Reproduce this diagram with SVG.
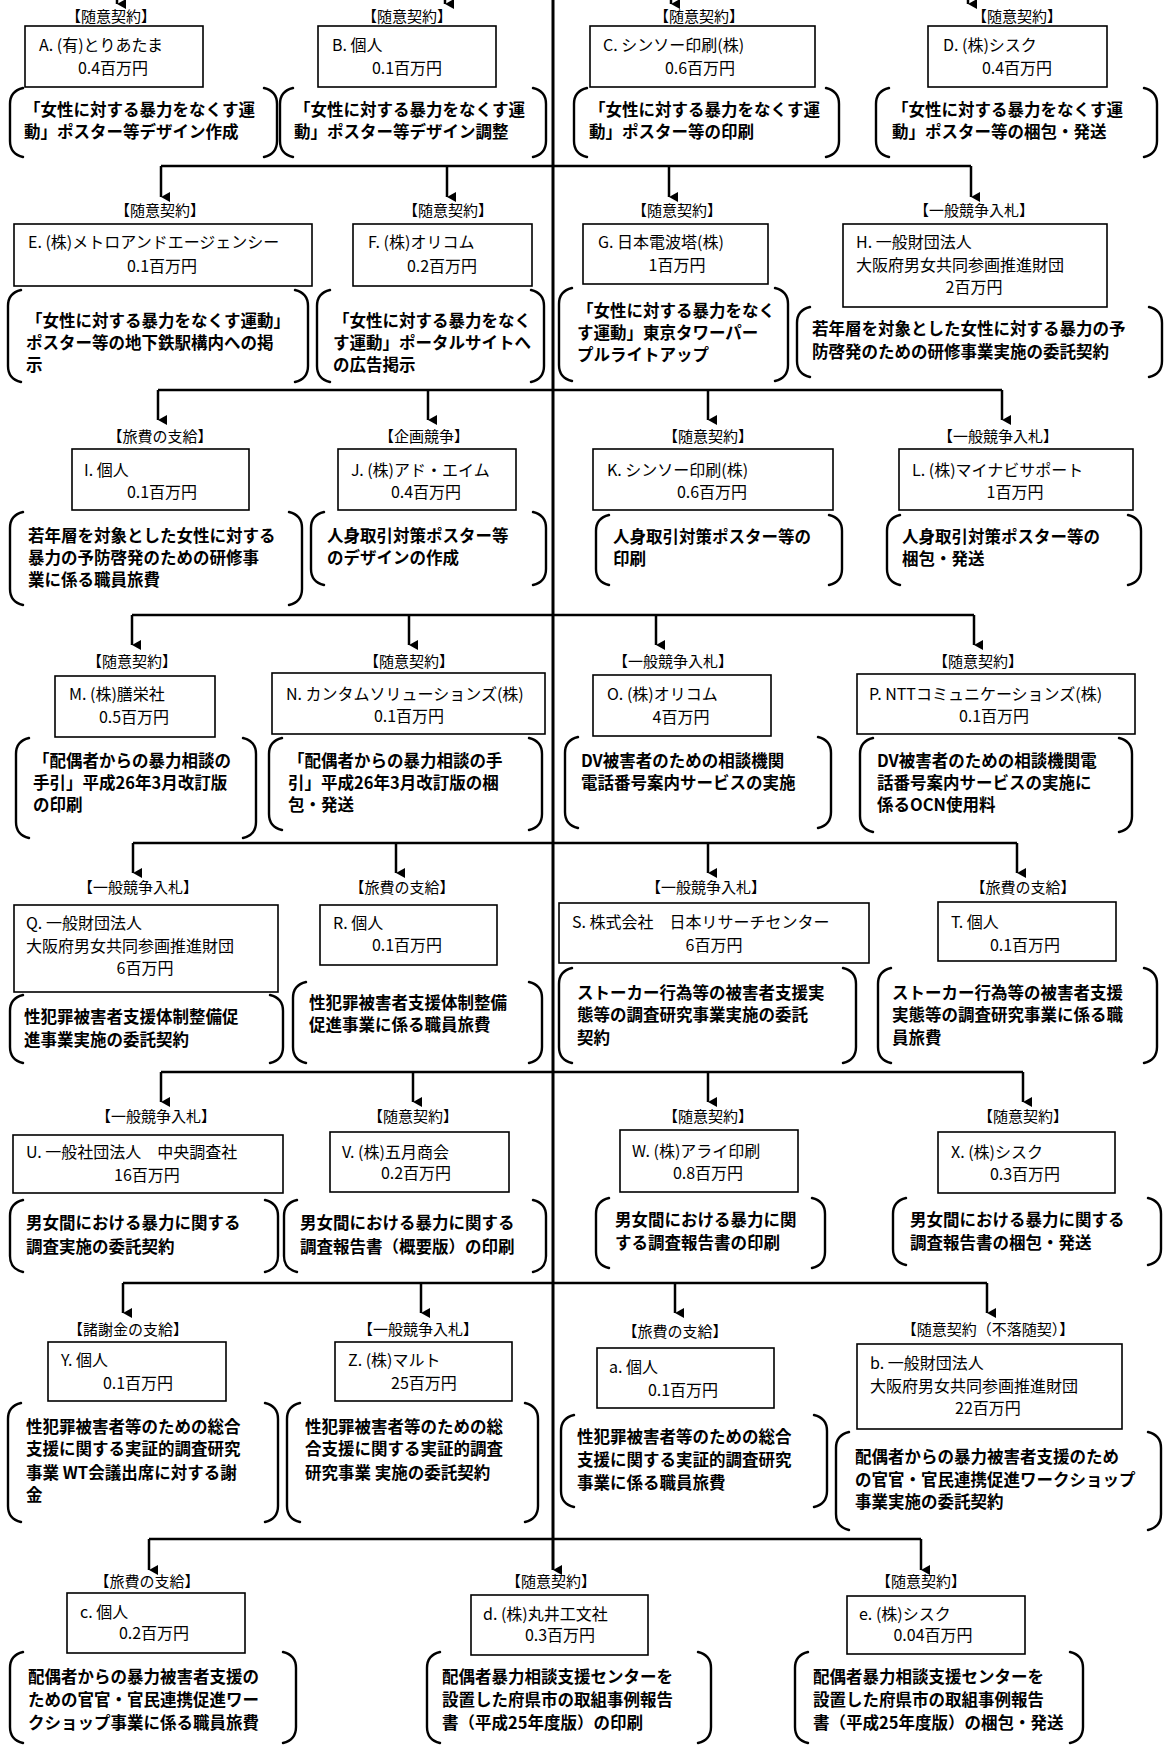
<svg xmlns="http://www.w3.org/2000/svg" width="1165" height="1753" viewBox="0 0 1165 1753">
<style>
text{font-family:"Noto Sans CJK JP","Noto Sans CJK SC",sans-serif;fill:#000}
.lb{font-size:15px;text-anchor:middle}
.bt{font-size:16px}
.bm{font-size:16px;text-anchor:middle}
.dt{font-size:16.5px;font-weight:700}
.box{fill:#fff;stroke:#000;stroke-width:1.6}
.br{fill:none;stroke:#000;stroke-width:2.4;stroke-linecap:round}
.ln{fill:none;stroke:#000;stroke-width:2.5}
.cl{fill:none;stroke:#000;stroke-width:3}
</style>
<defs>
<marker id="ah" markerUnits="userSpaceOnUse" markerWidth="12" markerHeight="12" viewBox="0 0 12 12" refX="6" refY="11" orient="auto-start-reverse">
<path d="M1,2 L11,2 L6,11 Z" fill="#000"/>
</marker>
</defs>
<rect x="0" y="0" width="1165" height="1753" fill="#fff"/>

<g id="connectors">
<line class="cl" x1="553" y1="0" x2="553" y2="1570" marker-end="url(#ah)"/>
<line class="ln" x1="117" y1="-12" x2="117" y2="4" marker-end="url(#ah)"/>
<line class="ln" x1="445" y1="-12" x2="445" y2="4" marker-end="url(#ah)"/>
<line class="ln" x1="671" y1="-12" x2="671" y2="4" marker-end="url(#ah)"/>
<line class="ln" x1="968" y1="-12" x2="968" y2="4" marker-end="url(#ah)"/>

<path class="ln" d="M161,166 H971"/>
<line class="ln" x1="161" y1="166" x2="161" y2="197" marker-end="url(#ah)"/>
<line class="ln" x1="447" y1="166" x2="447" y2="197" marker-end="url(#ah)"/>
<line class="ln" x1="669" y1="166" x2="669" y2="197" marker-end="url(#ah)"/>
<line class="ln" x1="971" y1="166" x2="971" y2="197" marker-end="url(#ah)"/>

<path class="ln" d="M158,390 H1002"/>
<line class="ln" x1="158" y1="390" x2="158" y2="420" marker-end="url(#ah)"/>
<line class="ln" x1="428" y1="390" x2="428" y2="420" marker-end="url(#ah)"/>
<line class="ln" x1="708" y1="390" x2="708" y2="420" marker-end="url(#ah)"/>
<line class="ln" x1="1002" y1="390" x2="1002" y2="420" marker-end="url(#ah)"/>

<path class="ln" d="M132,615 H974"/>
<line class="ln" x1="132" y1="615" x2="132" y2="645" marker-end="url(#ah)"/>
<line class="ln" x1="409" y1="615" x2="409" y2="645" marker-end="url(#ah)"/>
<line class="ln" x1="656" y1="615" x2="656" y2="645" marker-end="url(#ah)"/>
<line class="ln" x1="974" y1="615" x2="974" y2="645" marker-end="url(#ah)"/>

<path class="ln" d="M133,843 H1017"/>
<line class="ln" x1="133" y1="843" x2="133" y2="873" marker-end="url(#ah)"/>
<line class="ln" x1="396" y1="843" x2="396" y2="873" marker-end="url(#ah)"/>
<line class="ln" x1="708" y1="843" x2="708" y2="873" marker-end="url(#ah)"/>
<line class="ln" x1="1017" y1="843" x2="1017" y2="873" marker-end="url(#ah)"/>

<path class="ln" d="M161,1072 H1023"/>
<line class="ln" x1="161" y1="1072" x2="161" y2="1102" marker-end="url(#ah)"/>
<line class="ln" x1="413" y1="1072" x2="413" y2="1102" marker-end="url(#ah)"/>
<line class="ln" x1="708" y1="1072" x2="708" y2="1102" marker-end="url(#ah)"/>
<line class="ln" x1="1023" y1="1072" x2="1023" y2="1102" marker-end="url(#ah)"/>

<path class="ln" d="M123,1283 H987"/>
<line class="ln" x1="123" y1="1283" x2="123" y2="1313" marker-end="url(#ah)"/>
<line class="ln" x1="421" y1="1283" x2="421" y2="1313" marker-end="url(#ah)"/>
<line class="ln" x1="675" y1="1283" x2="675" y2="1313" marker-end="url(#ah)"/>
<line class="ln" x1="987" y1="1283" x2="987" y2="1313" marker-end="url(#ah)"/>

<path class="ln" d="M149,1539 H921"/>
<line class="ln" x1="149" y1="1539" x2="149" y2="1570" marker-end="url(#ah)"/>
<line class="ln" x1="921" y1="1539" x2="921" y2="1570" marker-end="url(#ah)"/>
</g>

<!-- Row 1 -->
<g id="node-A">
<text class="lb" x="111" y="22">【随意契約】</text>
<rect class="box" x="25" y="26" width="178" height="61"/>
<text class="bt" x="39" y="51">A. (有)とりあたま</text>
<text class="bm" x="113" y="74">0.4百万円</text>
<path class="br" d="M23,88 Q10,91 10,104 V141 Q10,154 23,157 M264,88 Q277,91 277,104 V141 Q277,154 264,157"/>
<text class="dt" x="24" y="116">「女性に対する暴力をなくす運</text>
<text class="dt" x="24" y="138">動」ポスター等デザイン作成</text>
</g>
<g id="node-B">
<text class="lb" x="407" y="22">【随意契約】</text>
<rect class="box" x="318" y="26" width="178" height="61"/>
<text class="bt" x="332" y="51">B. 個人</text>
<text class="bm" x="407" y="74">0.1百万円</text>
<path class="br" d="M293,88 Q280,91 280,104 V141 Q280,154 293,157 M533,88 Q546,91 546,104 V141 Q546,154 533,157"/>
<text class="dt" x="294" y="116">「女性に対する暴力をなくす運</text>
<text class="dt" x="294" y="138">動」ポスター等デザイン調整</text>
</g>
<g id="node-C">
<text class="lb" x="699" y="22">【随意契約】</text>
<rect class="box" x="590" y="26" width="225" height="61"/>
<text class="bt" x="603" y="51">C. シンソー印刷(株)</text>
<text class="bm" x="700" y="74">0.6百万円</text>
<path class="br" d="M587,88 Q574,91 574,104 V141 Q574,154 587,157 M826,88 Q839,91 839,104 V141 Q839,154 826,157"/>
<text class="dt" x="589" y="116">「女性に対する暴力をなくす運</text>
<text class="dt" x="589" y="138">動」ポスター等の印刷</text>
</g>
<g id="node-D">
<text class="lb" x="1017" y="22">【随意契約】</text>
<rect class="box" x="928" y="26" width="179" height="61"/>
<text class="bt" x="943" y="51">D. (株)シスク</text>
<text class="bm" x="1017" y="74">0.4百万円</text>
<path class="br" d="M889,88 Q876,91 876,104 V141 Q876,154 889,157 M1144,88 Q1157,91 1157,104 V141 Q1157,154 1144,157"/>
<text class="dt" x="892" y="116">「女性に対する暴力をなくす運</text>
<text class="dt" x="892" y="138">動」ポスター等の梱包・発送</text>
</g>

<!-- Row 2 -->
<g id="node-E">
<text class="lb" x="160" y="216">【随意契約】</text>
<rect class="box" x="14" y="224" width="298" height="62"/>
<text class="bt" x="28" y="248">E. (株)メトロアンドエージェンシー</text>
<text class="bm" x="162" y="272">0.1百万円</text>
<path class="br" d="M21,290 Q8,293 8,306 V366 Q8,379 21,382 M295,290 Q308,293 308,306 V366 Q308,379 295,382"/>
<text class="dt" x="26" y="327">「女性に対する暴力をなくす運動」</text>
<text class="dt" x="26" y="349">ポスター等の地下鉄駅構内への掲</text>
<text class="dt" x="26" y="371">示</text>
</g>
<g id="node-F">
<text class="lb" x="448" y="216">【随意契約】</text>
<rect class="box" x="353" y="224" width="179" height="62"/>
<text class="bt" x="368" y="248">F. (株)オリコム</text>
<text class="bm" x="442" y="272">0.2百万円</text>
<path class="br" d="M330,290 Q317,293 317,306 V366 Q317,379 330,382 M531,290 Q544,293 544,306 V366 Q544,379 531,382"/>
<text class="dt" x="333" y="327">「女性に対する暴力をなく</text>
<text class="dt" x="333" y="349">す運動」ポータルサイトへ</text>
<text class="dt" x="333" y="371">の広告掲示</text>
</g>
<g id="node-G">
<text class="lb" x="677" y="216">【随意契約】</text>
<rect class="box" x="583" y="224" width="185" height="60"/>
<text class="bt" x="598" y="248">G. 日本電波塔(株)</text>
<text class="bm" x="677" y="271">1百万円</text>
<path class="br" d="M572,288 Q559,291 559,304 V365 Q559,378 572,381 M775,288 Q788,291 788,304 V365 Q788,378 775,381"/>
<text class="dt" x="577" y="317">「女性に対する暴力をなく</text>
<text class="dt" x="577" y="339">す運動」東京タワーパー</text>
<text class="dt" x="577" y="361">プルライトアップ</text>
</g>
<g id="node-H">
<text class="lb" x="974" y="216">【一般競争入札】</text>
<rect class="box" x="843" y="224" width="264" height="83"/>
<text class="bt" x="856" y="248">H. 一般財団法人</text>
<text class="bt" x="856" y="271">大阪府男女共同参画推進財団</text>
<text class="bm" x="974" y="293">2百万円</text>
<path class="br" d="M810,307 Q797,310 797,323 V361 Q797,374 810,377 M1149,307 Q1162,310 1162,323 V361 Q1162,374 1149,377"/>
<text class="dt" x="812" y="335">若年層を対象とした女性に対する暴力の予</text>
<text class="dt" x="812" y="358">防啓発のための研修事業実施の委託契約</text>
</g>

<!-- Row 3 -->
<g id="node-I">
<text class="lb" x="160" y="442">【旅費の支給】</text>
<rect class="box" x="72" y="449" width="177" height="61"/>
<text class="bt" x="84" y="476">I. 個人</text>
<text class="bm" x="162" y="498">0.1百万円</text>
<path class="br" d="M23,512 Q10,515 10,528 V589 Q10,602 23,605 M289,512 Q302,515 302,528 V589 Q302,602 289,605"/>
<text class="dt" x="28" y="542">若年層を対象とした女性に対する</text>
<text class="dt" x="28" y="564">暴力の予防啓発のための研修事</text>
<text class="dt" x="28" y="586">業に係る職員旅費</text>
</g>
<g id="node-J">
<text class="lb" x="424" y="442">【企画競争】</text>
<rect class="box" x="338" y="449" width="178" height="61"/>
<text class="bt" x="351" y="476">J. (株)アド・エイム</text>
<text class="bm" x="426" y="498">0.4百万円</text>
<path class="br" d="M324,512 Q311,515 311,528 V569 Q311,582 324,585 M533,512 Q546,515 546,528 V569 Q546,582 533,585"/>
<text class="dt" x="327" y="542">人身取引対策ポスター等</text>
<text class="dt" x="327" y="564">のデザインの作成</text>
</g>
<g id="node-K">
<text class="lb" x="708" y="442">【随意契約】</text>
<rect class="box" x="593" y="449" width="240" height="61"/>
<text class="bt" x="607" y="476">K. シンソー印刷(株)</text>
<text class="bm" x="712" y="498">0.6百万円</text>
<path class="br" d="M609,515 Q596,518 596,531 V569 Q596,582 609,585 M829,515 Q842,518 842,531 V569 Q842,582 829,585"/>
<text class="dt" x="613" y="543">人身取引対策ポスター等の</text>
<text class="dt" x="613" y="565">印刷</text>
</g>
<g id="node-L">
<text class="lb" x="998" y="442">【一般競争入札】</text>
<rect class="box" x="899" y="449" width="234" height="61"/>
<text class="bt" x="912" y="476">L. (株)マイナビサポート</text>
<text class="bm" x="1015" y="498">1百万円</text>
<path class="br" d="M900,515 Q887,518 887,531 V569 Q887,582 900,585 M1128,515 Q1141,518 1141,531 V569 Q1141,582 1128,585"/>
<text class="dt" x="902" y="543">人身取引対策ポスター等の</text>
<text class="dt" x="902" y="565">梱包・発送</text>
</g>

<!-- Row 4 -->
<g id="node-M">
<text class="lb" x="132" y="667">【随意契約】</text>
<rect class="box" x="55" y="676" width="160" height="61"/>
<text class="bt" x="69" y="700">M. (株)膳栄社</text>
<text class="bm" x="134" y="723">0.5百万円</text>
<path class="br" d="M29,738 Q16,741 16,754 V822 Q16,835 29,838 M243,738 Q256,741 256,754 V822 Q256,835 243,838"/>
<text class="dt" x="33" y="767">「配偶者からの暴力相談の</text>
<text class="dt" x="33" y="789">手引」平成26年3月改訂版</text>
<text class="dt" x="33" y="811">の印刷</text>
</g>
<g id="node-N">
<text class="lb" x="409" y="667">【随意契約】</text>
<rect class="box" x="272" y="673" width="273" height="61"/>
<text class="bt" x="286" y="700">N. カンタムソリューションズ(株)</text>
<text class="bm" x="409" y="722">0.1百万円</text>
<path class="br" d="M282,738 Q269,741 269,754 V814 Q269,827 282,830 M529,738 Q542,741 542,754 V814 Q542,827 529,830"/>
<text class="dt" x="288" y="767">「配偶者からの暴力相談の手</text>
<text class="dt" x="288" y="789">引」平成26年3月改訂版の梱</text>
<text class="dt" x="288" y="811">包・発送</text>
</g>
<g id="node-O">
<text class="lb" x="673" y="667">【一般競争入札】</text>
<rect class="box" x="593" y="675" width="178" height="61"/>
<text class="bt" x="607" y="700">O. (株)オリコム</text>
<text class="bm" x="681" y="723">4百万円</text>
<path class="br" d="M578,737 Q565,740 565,753 V812 Q565,825 578,828 M818,737 Q831,740 831,753 V812 Q831,825 818,828"/>
<text class="dt" x="581" y="767">DV被害者のための相談機関</text>
<text class="dt" x="581" y="789">電話番号案内サービスの実施</text>
</g>
<g id="node-P">
<text class="lb" x="978" y="667">【随意契約】</text>
<rect class="box" x="857" y="674" width="278" height="60"/>
<text class="bt" x="869" y="700">P. NTTコミュニケーションズ(株)</text>
<text class="bm" x="994" y="722">0.1百万円</text>
<path class="br" d="M873,738 Q860,741 860,754 V816 Q860,829 873,832 M1119,738 Q1132,741 1132,754 V816 Q1132,829 1119,832"/>
<text class="dt" x="877" y="767">DV被害者のための相談機関電</text>
<text class="dt" x="877" y="789">話番号案内サービスの実施に</text>
<text class="dt" x="877" y="811">係るOCN使用料</text>
</g>

<!-- Row 5 -->
<g id="node-Q">
<text class="lb" x="138" y="893">【一般競争入札】</text>
<rect class="box" x="14" y="905" width="264" height="87"/>
<text class="bt" x="26" y="929">Q. 一般財団法人</text>
<text class="bt" x="26" y="952">大阪府男女共同参画推進財団</text>
<text class="bm" x="145" y="974">6百万円</text>
<path class="br" d="M23,995 Q10,998 10,1011 V1047 Q10,1060 23,1063 M270,995 Q283,998 283,1011 V1047 Q283,1060 270,1063"/>
<text class="dt" x="24" y="1023">性犯罪被害者支援体制整備促</text>
<text class="dt" x="24" y="1046">進事業実施の委託契約</text>
</g>
<g id="node-R">
<text class="lb" x="402" y="893">【旅費の支給】</text>
<rect class="box" x="320" y="905" width="177" height="60"/>
<text class="bt" x="333" y="929">R. 個人</text>
<text class="bm" x="407" y="951">0.1百万円</text>
<path class="br" d="M306,982 Q293,985 293,998 V1047 Q293,1060 306,1063 M529,982 Q542,985 542,998 V1047 Q542,1060 529,1063"/>
<text class="dt" x="309" y="1009">性犯罪被害者支援体制整備</text>
<text class="dt" x="309" y="1031">促進事業に係る職員旅費</text>
</g>
<g id="node-S">
<text class="lb" x="706" y="893">【一般競争入札】</text>
<rect class="box" x="559" y="903" width="310" height="60"/>
<text class="bt" x="572" y="928">S. 株式会社　日本リサーチセンター</text>
<text class="bm" x="714" y="951">6百万円</text>
<path class="br" d="M572,968 Q559,971 559,984 V1047 Q559,1060 572,1063 M843,968 Q856,971 856,984 V1047 Q856,1060 843,1063"/>
<text class="dt" x="577" y="999">ストーカー行為等の被害者支援実</text>
<text class="dt" x="577" y="1021">態等の調査研究事業実施の委託</text>
<text class="dt" x="577" y="1044">契約</text>
</g>
<g id="node-T">
<text class="lb" x="1023" y="893">【旅費の支給】</text>
<rect class="box" x="938" y="902" width="178" height="59"/>
<text class="bt" x="951" y="928">T. 個人</text>
<text class="bm" x="1025" y="951">0.1百万円</text>
<path class="br" d="M891,968 Q878,971 878,984 V1047 Q878,1060 891,1063 M1144,968 Q1157,971 1157,984 V1047 Q1157,1060 1144,1063"/>
<text class="dt" x="892" y="999">ストーカー行為等の被害者支援</text>
<text class="dt" x="892" y="1021">実態等の調査研究事業に係る職</text>
<text class="dt" x="892" y="1044">員旅費</text>
</g>

<!-- Row 6 -->
<g id="node-U">
<text class="lb" x="156" y="1122">【一般競争入札】</text>
<rect class="box" x="13" y="1135" width="270" height="58"/>
<text class="bt" x="26" y="1158">U. 一般社団法人　中央調査社</text>
<text class="bm" x="147" y="1181">16百万円</text>
<path class="br" d="M23,1200 Q10,1203 10,1216 V1256 Q10,1269 23,1272 M265,1200 Q278,1203 278,1216 V1256 Q278,1269 265,1272"/>
<text class="dt" x="26" y="1229">男女間における暴力に関する</text>
<text class="dt" x="26" y="1253">調査実施の委託契約</text>
</g>
<g id="node-V">
<text class="lb" x="413" y="1122">【随意契約】</text>
<rect class="box" x="330" y="1132" width="179" height="60"/>
<text class="bt" x="342" y="1158">V. (株)五月商会</text>
<text class="bm" x="416" y="1179">0.2百万円</text>
<path class="br" d="M297,1200 Q284,1203 284,1216 V1256 Q284,1269 297,1272 M533,1200 Q546,1203 546,1216 V1256 Q546,1269 533,1272"/>
<text class="dt" x="300" y="1229">男女間における暴力に関する</text>
<text class="dt" x="300" y="1253">調査報告書（概要版）の印刷</text>
</g>
<g id="node-W">
<text class="lb" x="708" y="1122">【随意契約】</text>
<rect class="box" x="620" y="1130" width="178" height="62"/>
<text class="bt" x="632" y="1157">W. (株)アライ印刷</text>
<text class="bm" x="708" y="1179">0.8百万円</text>
<path class="br" d="M609,1198 Q596,1201 596,1214 V1252 Q596,1265 609,1268 M812,1198 Q825,1201 825,1214 V1252 Q825,1265 812,1268"/>
<text class="dt" x="615" y="1226">男女間における暴力に関</text>
<text class="dt" x="615" y="1249">する調査報告書の印刷</text>
</g>
<g id="node-X">
<text class="lb" x="1023" y="1122">【随意契約】</text>
<rect class="box" x="938" y="1132" width="177" height="61"/>
<text class="bt" x="951" y="1158">X. (株)シスク</text>
<text class="bm" x="1025" y="1180">0.3百万円</text>
<path class="br" d="M906,1198 Q893,1201 893,1214 V1249 Q893,1262 906,1265 M1148,1198 Q1161,1201 1161,1214 V1249 Q1161,1262 1148,1265"/>
<text class="dt" x="910" y="1226">男女間における暴力に関する</text>
<text class="dt" x="910" y="1249">調査報告書の梱包・発送</text>
</g>

<!-- Row 7 -->
<g id="node-Y">
<text class="lb" x="128" y="1335">【諸謝金の支給】</text>
<rect class="box" x="48" y="1342" width="178" height="59"/>
<text class="bt" x="61" y="1366">Y. 個人</text>
<text class="bm" x="138" y="1389">0.1百万円</text>
<path class="br" d="M21,1403 Q8,1406 8,1419 V1506 Q8,1519 21,1522 M265,1403 Q278,1406 278,1419 V1506 Q278,1519 265,1522"/>
<text class="dt" x="26" y="1433">性犯罪被害者等のための総合</text>
<text class="dt" x="26" y="1455">支援に関する実証的調査研究</text>
<text class="dt" x="26" y="1479">事業 WT会議出席に対する謝</text>
<text class="dt" x="26" y="1501">金</text>
</g>
<g id="node-Z">
<text class="lb" x="418" y="1335">【一般競争入札】</text>
<rect class="box" x="335" y="1342" width="177" height="59"/>
<text class="bt" x="348" y="1366">Z. (株)マルト</text>
<text class="bm" x="424" y="1389">25百万円</text>
<path class="br" d="M300,1403 Q287,1406 287,1419 V1506 Q287,1519 300,1522 M525,1403 Q538,1406 538,1419 V1506 Q538,1519 525,1522"/>
<text class="dt" x="305" y="1433">性犯罪被害者等のための総</text>
<text class="dt" x="305" y="1455">合支援に関する実証的調査</text>
<text class="dt" x="305" y="1479">研究事業 実施の委託契約</text>
</g>
<g id="node-a">
<text class="lb" x="675" y="1337">【旅費の支給】</text>
<rect class="box" x="597" y="1348" width="177" height="60"/>
<text class="bt" x="609" y="1373">a. 個人</text>
<text class="bm" x="683" y="1396">0.1百万円</text>
<path class="br" d="M574,1415 Q561,1418 561,1431 V1491 Q561,1504 574,1507 M814,1415 Q827,1418 827,1431 V1491 Q827,1504 814,1507"/>
<text class="dt" x="577" y="1443">性犯罪被害者等のための総合</text>
<text class="dt" x="577" y="1466">支援に関する実証的調査研究</text>
<text class="dt" x="577" y="1489">事業に係る職員旅費</text>
</g>
<g id="node-b">
<text class="lb" x="988" y="1335">【随意契約（不落随契）】</text>
<rect class="box" x="857" y="1344" width="265" height="85"/>
<text class="bt" x="870" y="1369">b. 一般財団法人</text>
<text class="bt" x="870" y="1392">大阪府男女共同参画推進財団</text>
<text class="bm" x="988" y="1414">22百万円</text>
<path class="br" d="M849,1432 Q836,1435 836,1448 V1514 Q836,1527 849,1530 M1148,1432 Q1161,1435 1161,1448 V1514 Q1161,1527 1148,1530"/>
<text class="dt" x="855" y="1463">配偶者からの暴力被害者支援のため</text>
<text class="dt" x="855" y="1486">の官官・官民連携促進ワークショップ</text>
<text class="dt" x="855" y="1508">事業実施の委託契約</text>
</g>

<!-- Row 8 -->
<g id="node-c">
<text class="lb" x="147" y="1587">【旅費の支給】</text>
<rect class="box" x="67" y="1593" width="178" height="60"/>
<text class="bt" x="80" y="1618">c. 個人</text>
<text class="bm" x="154" y="1639">0.2百万円</text>
<path class="br" d="M23,1652 Q10,1655 10,1668 V1727 Q10,1740 23,1743 M283,1652 Q296,1655 296,1668 V1727 Q296,1740 283,1743"/>
<text class="dt" x="28" y="1683">配偶者からの暴力被害者支援の</text>
<text class="dt" x="28" y="1706">ための官官・官民連携促進ワー</text>
<text class="dt" x="28" y="1729">クショップ事業に係る職員旅費</text>
</g>
<g id="node-d">
<text class="lb" x="551" y="1587">【随意契約】</text>
<rect class="box" x="471" y="1595" width="177" height="60"/>
<text class="bt" x="483" y="1620">d. (株)丸井工文社</text>
<text class="bm" x="560" y="1641">0.3百万円</text>
<path class="br" d="M440,1652 Q427,1655 427,1668 V1727 Q427,1740 440,1743 M698,1652 Q711,1655 711,1668 V1727 Q711,1740 698,1743"/>
<text class="dt" x="442" y="1683">配偶者暴力相談支援センターを</text>
<text class="dt" x="442" y="1706">設置した府県市の取組事例報告</text>
<text class="dt" x="442" y="1729">書（平成25年度版）の印刷</text>
</g>
<g id="node-e">
<text class="lb" x="921" y="1587">【随意契約】</text>
<rect class="box" x="847" y="1596" width="178" height="58"/>
<text class="bt" x="859" y="1620">e. (株)シスク</text>
<text class="bm" x="933" y="1641">0.04百万円</text>
<path class="br" d="M808,1652 Q795,1655 795,1668 V1727 Q795,1740 808,1743 M1070,1652 Q1083,1655 1083,1668 V1727 Q1083,1740 1070,1743"/>
<text class="dt" x="813" y="1683">配偶者暴力相談支援センターを</text>
<text class="dt" x="813" y="1706">設置した府県市の取組事例報告</text>
<text class="dt" x="813" y="1729">書（平成25年度版）の梱包・発送</text>
</g>
</svg>
